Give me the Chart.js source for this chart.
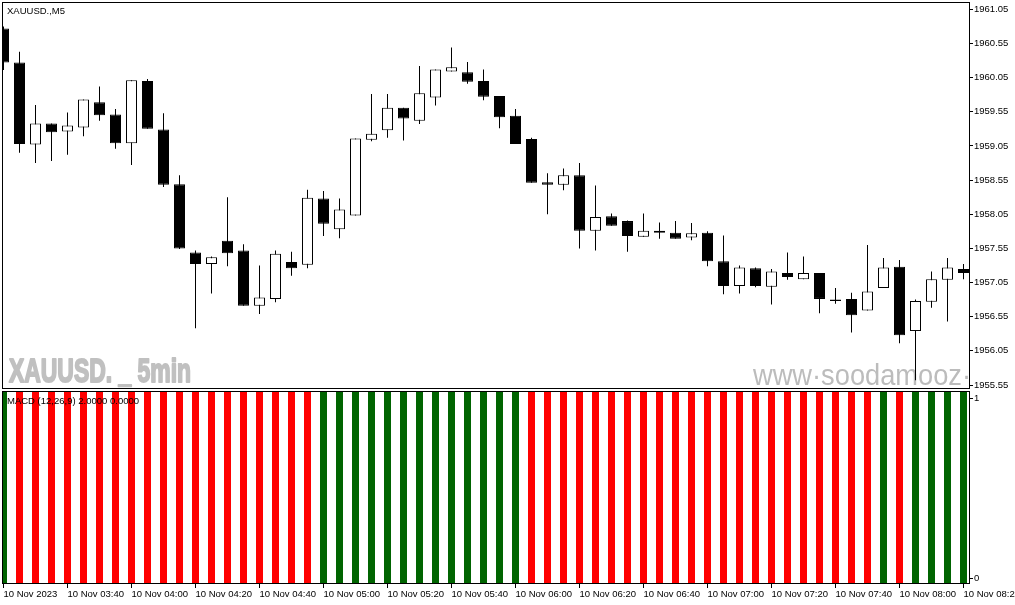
<!DOCTYPE html>
<html lang="en">
<head>
  <meta charset="UTF-8" />
  <title>XAUUSD M5 - MACD</title>
  <script src="https://cdn.jsdelivr.net/npm/chart.js"></script>
  <style>
    body { margin: 0; background: #fff; }
    #wrap { position: relative; width: 1015px; height: 605px; overflow: hidden; }
    canvas { position: absolute; left: 0; }
    #priceChart { top: 0; }
    #macdChart { top: 389px; }
  </style>
</head>
<body>
  <div id="wrap">
    <canvas id="priceChart" width="1015" height="390"></canvas>
    <canvas id="macdChart" width="1015" height="216"></canvas>
  </div>

  <script>
    // candles, 5 min, 10 Nov 2023 03:20 -> 08:20
    const opens = [
      1960.77, 1960.27, 1959.07, 1959.38, 1959.26, 1959.32, 1959.69, 1959.51, 1959.09, 1960.00,
      1959.29, 1958.49, 1957.49, 1957.32, 1957.66, 1957.52, 1956.71, 1956.81, 1957.35, 1957.31,
      1958.28, 1957.83, 1958.03, 1959.14, 1959.28, 1959.61, 1959.42, 1959.76, 1960.14, 1960.13,
      1960.00, 1959.78, 1959.49, 1959.15, 1958.52, 1958.48, 1958.62, 1957.81, 1958.02, 1957.95,
      1957.72, 1957.78, 1957.78, 1957.71, 1957.78, 1957.36, 1957.00, 1957.26, 1956.99, 1957.19,
      1957.10, 1957.19, 1956.80, 1956.81, 1956.64, 1956.97, 1957.28, 1956.34, 1956.77, 1957.09,
      1957.25
    ];
    const highs = [
      1960.80, 1960.43, 1959.65, 1959.38, 1959.54, 1959.73, 1959.92, 1959.59, 1960.01, 1960.03,
      1959.53, 1958.62, 1957.52, 1957.43, 1958.30, 1957.61, 1957.30, 1957.52, 1957.50, 1958.41,
      1958.39, 1958.28, 1959.16, 1959.81, 1959.81, 1959.61, 1960.22, 1960.17, 1960.49, 1960.28,
      1960.17, 1959.78, 1959.59, 1959.17, 1958.65, 1958.72, 1958.80, 1958.47, 1958.06, 1957.96,
      1958.06, 1957.93, 1957.95, 1957.92, 1957.80, 1957.74, 1957.30, 1957.27, 1957.25, 1957.49,
      1957.43, 1957.19, 1956.97, 1956.90, 1957.60, 1957.41, 1957.38, 1956.80, 1957.21, 1957.41,
      1957.32
    ];
    const lows = [
      1960.16, 1958.95, 1958.80, 1958.83, 1958.92, 1959.19, 1959.42, 1959.01, 1958.77, 1959.30,
      1958.45, 1957.54, 1956.38, 1956.89, 1957.29, 1956.71, 1956.59, 1956.76, 1957.15, 1957.26,
      1957.73, 1957.70, 1958.03, 1959.12, 1959.17, 1959.13, 1959.37, 1959.64, 1960.14, 1959.96,
      1959.72, 1959.31, 1959.08, 1958.51, 1958.05, 1958.40, 1957.55, 1957.52, 1957.88, 1957.50,
      1957.72, 1957.69, 1957.69, 1957.67, 1957.29, 1956.88, 1956.89, 1956.98, 1956.73, 1957.09,
      1957.10, 1956.60, 1956.74, 1956.32, 1956.64, 1956.97, 1956.16, 1955.62, 1956.68, 1956.48,
      1957.10
    ];
    const closes = [
      1960.27, 1959.08, 1959.38, 1959.25, 1959.35, 1959.73, 1959.50, 1959.09, 1960.01, 1959.30,
      1958.48, 1957.55, 1957.32, 1957.42, 1957.48, 1956.71, 1956.83, 1957.47, 1957.26, 1958.29,
      1957.91, 1958.12, 1959.16, 1959.23, 1959.61, 1959.45, 1959.82, 1960.17, 1960.20, 1959.99,
      1959.77, 1959.47, 1959.08, 1958.51, 1958.48, 1958.62, 1957.81, 1958.01, 1957.88, 1957.73,
      1957.81, 1957.81, 1957.69, 1957.77, 1957.36, 1957.00, 1957.27, 1957.00, 1957.21, 1957.13,
      1957.19, 1956.81, 1956.78, 1956.57, 1956.92, 1957.27, 1956.28, 1956.78, 1957.10, 1957.27,
      1957.19
    ];

    // MACD pane: every bar is 1, colour by direction (1 = up / green, 0 = down / red)
    const macdHist = [
      1, 1, 1, 1, 1, 1, 1, 1, 1, 1, 1, 1, 1, 1, 1, 1, 1, 1, 1, 1,
      1, 1, 1, 1, 1, 1, 1, 1, 1, 1, 1, 1, 1, 1, 1, 1, 1, 1, 1, 1,
      1, 1, 1, 1, 1, 1, 1, 1, 1, 1, 1, 1, 1, 1, 1, 1, 1, 1, 1, 1,
      1
    ];
    const macdUp = [
      1, 0, 0, 0, 0, 0, 0, 0, 0, 0, 0, 0, 0, 0, 0, 0, 0, 0, 0, 0,
      1, 1, 1, 1, 1, 1, 1, 1, 1, 1, 1, 1, 1, 0, 0, 0, 0, 0, 0, 0,
      0, 0, 0, 0, 0, 0, 0, 0, 0, 0, 0, 0, 0, 0, 0, 1, 0, 1, 1, 1,
      1
    ];

    const timeLabels = [
      '10 Nov 2023', '10 Nov 03:40', '10 Nov 04:00', '10 Nov 04:20', '10 Nov 04:40',
      '10 Nov 05:00', '10 Nov 05:20', '10 Nov 05:40', '10 Nov 06:00', '10 Nov 06:20',
      '10 Nov 06:40', '10 Nov 07:00', '10 Nov 07:20', '10 Nov 07:40', '10 Nov 08:00',
      '10 Nov 08:20'
    ];
    const priceTicks = [
      1955.55, 1956.05, 1956.55, 1957.05, 1957.55, 1958.05,
      1958.55, 1959.05, 1959.55, 1960.05, 1960.55, 1961.05
    ];
    const macdTickLabels = ['0', '1'];

    // visible window (bar index units) and price range of the main pane
    const xMin = -0.09375;
    const xMax = xMin + 968 / 16;
    const priceMin = 1955.4915;
    const priceMax = 1961.157;

    Chart.defaults.font.family = '"Liberation Sans", Arial, sans-serif';
    Chart.defaults.font.size = 9.5;
    Chart.defaults.color = '#000';

    function fixAxisWidth(scale) {
      scale.width = 45;
      scale.paddingTop = 0;
      scale.paddingBottom = 0;
    }

    function fixAxisHeight(scale) {
      scale.height = 21;
      scale.paddingLeft = 0;
      scale.paddingRight = 0;
    }

    function drawScaled(ctx, text, x, y, sx, stroke) {
      ctx.save();
      ctx.translate(x, y);
      ctx.scale(sx, 1);
      if (stroke) ctx.strokeText(text, 0, 0);
      ctx.fillText(text, 0, 0);
      ctx.restore();
    }

    const paneFrame = {
      id: 'paneFrame',
      afterDraw(chart) {
        const { ctx, chartArea: a } = chart;
        ctx.save();
        ctx.strokeStyle = '#000';
        ctx.lineWidth = 1;
        ctx.strokeRect(a.left + 0.5, a.top + 0.5, a.right - a.left - 1, a.bottom - a.top - 1);
        ctx.restore();
      }
    };

    const priceOverlay = {
      id: 'priceOverlay',
      beforeDatasetsDraw(chart) {
        const { ctx, chartArea: a } = chart;
        ctx.save();
        ctx.beginPath();
        ctx.rect(a.left, a.top, a.right - a.left, a.bottom - a.top);
        ctx.clip();
        ctx.fillStyle = '#c0c0c0';
        ctx.strokeStyle = '#c0c0c0';
        ctx.lineWidth = 2;
        ctx.lineJoin = 'round';
        ctx.textBaseline = 'alphabetic';
        ctx.textAlign = 'left';

        // heavy condensed watermark: bold face squeezed to the width seen in the picture
        ctx.font = 'bold 34px "Liberation Sans", Arial, sans-serif';
        const t1 = 'XAUUSD. _ 5min';
        drawScaled(ctx, t1, 9, 382, 182 / ctx.measureText(t1).width, true);

        ctx.fillStyle = '#bcbcbc';
        ctx.font = '30px "Liberation Sans", Arial, sans-serif';
        const sx = 209 / ctx.measureText('www·soodamooz').width;
        drawScaled(ctx, 'www·soodamooz·com', 753, 385, sx, false);
        ctx.restore();
      },
      afterDraw(chart) {
        const { ctx } = chart;
        ctx.save();
        ctx.font = '9.5px "Liberation Sans", Arial, sans-serif';
        ctx.fillStyle = '#000';
        ctx.textBaseline = 'middle';
        ctx.fillText('XAUUSD.,M5', 7, 11);
        ctx.restore();
      }
    };

    const macdOverlay = {
      id: 'macdOverlay',
      afterDraw(chart) {
        const { ctx } = chart;
        ctx.save();
        ctx.font = '9.5px "Liberation Sans", Arial, sans-serif';
        ctx.fillStyle = '#000';
        ctx.textBaseline = 'middle';
        ctx.fillText('MACD (12,26,9) 2.0000 0.0000', 7, 12);
        ctx.restore();
      }
    };

    const bodyData = opens.map((o, i) => ({ x: i, y: [o, closes[i]] }));
    const wickData = lows.map((l, i) => ({ x: i, y: [l, highs[i]] }));
    const bodyFill = opens.map((o, i) => (closes[i] > o ? '#ffffff' : '#000000'));

    new Chart(document.getElementById('priceChart'), {
      type: 'bar',
      data: {
        datasets: [
          {
            label: 'Body',
            data: bodyData,
            backgroundColor: bodyFill,
            borderColor: '#000',
            borderWidth: 1,
            borderSkipped: false,
            inflateAmount: 0,
            barThickness: 11,
            grouped: false,
            order: 0,
            clip: 0
          },
          {
            label: 'Wick',
            data: wickData,
            backgroundColor: '#000',
            borderWidth: 0,
            inflateAmount: 0,
            barThickness: 1,
            grouped: false,
            order: 1,
            clip: 0
          }
        ]
      },
      options: {
        responsive: false,
        animation: false,
        devicePixelRatio: 1,
        layout: { padding: { left: 2, top: 2, right: 0, bottom: 1 } },
        plugins: { legend: { display: false }, tooltip: { enabled: false } },
        scales: {
          x: {
            type: 'linear',
            display: false,
            offset: false,
            grid: { offset: false },
            min: xMin,
            max: xMax,
            bounds: 'data'
          },
          y: {
            position: 'right',
            min: priceMin,
            max: priceMax,
            bounds: 'data',
            afterBuildTicks: s => { s.ticks = priceTicks.map(v => ({ value: v })); },
            afterFit: fixAxisWidth,
            ticks: { padding: 1, autoSkip: false, callback: v => v.toFixed(2) },
            grid: { drawOnChartArea: false, tickLength: 3, color: '#000' },
            border: { display: false }
          }
        }
      },
      plugins: [priceOverlay, paneFrame]
    });

    new Chart(document.getElementById('macdChart'), {
      type: 'bar',
      data: {
        datasets: [{
          label: 'MACD',
          data: macdHist.map((v, i) => ({ x: i, y: v })),
          backgroundColor: macdUp.map(u => (u ? '#006400' : '#ff0000')),
          borderWidth: 0,
          inflateAmount: 0,
          barThickness: 7,
          clip: 0
        }]
      },
      options: {
        responsive: false,
        animation: false,
        devicePixelRatio: 1,
        layout: { padding: { left: 2, top: 2, right: 0, bottom: 0 } },
        plugins: { legend: { display: false }, tooltip: { enabled: false } },
        scales: {
          x: {
            type: 'linear',
            position: 'bottom',
            offset: false,
            min: xMin,
            max: xMax,
            bounds: 'data',
            afterBuildTicks: s => { s.ticks = timeLabels.map((_, i) => ({ value: i * 4 })); },
            afterFit: fixAxisHeight,
            ticks: {
              autoSkip: false,
              maxRotation: 0,
              minRotation: 0,
              align: 'start',
              padding: 1,
              callback: (v, i) => timeLabels[i]
            },
            grid: { drawOnChartArea: false, offset: false, tickLength: 4, color: '#000' },
            border: { display: false }
          },
          y: {
            position: 'right',
            min: 0,
            max: 1,
            bounds: 'data',
            // MT5 draws the 0 / 1 labels just inside the pane edges
            afterBuildTicks: s => { s.ticks = [{ value: 0.03 }, { value: 0.96 }]; },
            afterFit: fixAxisWidth,
            ticks: { padding: 1, autoSkip: false, callback: (v, i) => macdTickLabels[i] },
            grid: { drawOnChartArea: false, tickLength: 3, color: '#000' },
            border: { display: false }
          }
        }
      },
      plugins: [macdOverlay, paneFrame]
    });
  </script>
</body>
</html>
